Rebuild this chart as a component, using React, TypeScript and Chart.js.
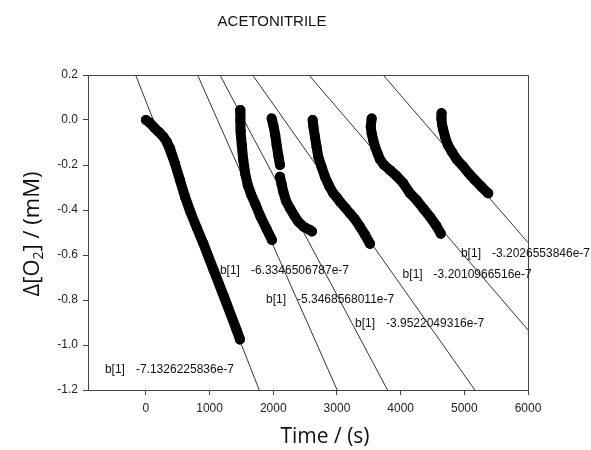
import React, { useEffect, useRef } from "react";
import { Chart, registerables } from "chart.js";

Chart.register(...registerables);

const TITLE = "ACETONITRILE";
const X_TITLE = "Time / (s)";
const X_TICKS = [0, 1000, 2000, 3000, 4000, 5000, 6000];
const Y_TICKS = [-1.2, -1.0, -0.8, -0.6, -0.4, -0.2, 0.0, 0.2];
const X_MIN = -910;
const X_MAX = 6000;
const Y_MIN = -1.2;
const Y_MAX = 0.2;

// measured runs: time (s), delta O2 (mM)
const RUN1_T = [0, 60, 141, 210, 272, 330, 377, 455, 534, 613, 700, 800, 900, 1063, 1225, 1424, 1476];
const RUN1_O2 = [0, -0.012, -0.037, -0.055, -0.074, -0.098, -0.126, -0.193, -0.267, -0.341, -0.41, -0.48, -0.548, -0.667, -0.785, -0.933, -0.975];

const RUN2_T = [1480, 1480, 1490, 1505, 1528, 1560, 1600, 1650, 1720, 1800, 1895, 1979];
const RUN2_O2 = [0.044, 0.0, -0.05, -0.111, -0.178, -0.24, -0.29, -0.33, -0.375, -0.43, -0.485, -0.533];

const RUN3A_T = [1974, 2000, 2030, 2052, 2080, 2105];
const RUN3A_O2 = [0.007, -0.022, -0.065, -0.111, -0.16, -0.2];
const RUN3B_T = [2105, 2130, 2157, 2200, 2262, 2330, 2392, 2480, 2576, 2607];
const RUN3B_O2 = [-0.252, -0.285, -0.319, -0.36, -0.393, -0.425, -0.452, -0.475, -0.489, -0.495];

const RUN4_T = [2618, 2630, 2654, 2680, 2706, 2760, 2811, 2880, 2942, 3000, 3047, 3130, 3204, 3280, 3361, 3440, 3518];
const RUN4_O2 = [0.0, -0.03, -0.074, -0.12, -0.163, -0.21, -0.252, -0.295, -0.326, -0.345, -0.363, -0.39, -0.415, -0.44, -0.474, -0.51, -0.55];

const RUN5_T = [3545, 3530, 3545, 3570, 3600, 3640, 3675, 3740, 3832, 3940, 4041, 4146, 4251, 4360, 4460, 4560, 4630];
const RUN5_O2 = [0.007, -0.03, -0.06, -0.09, -0.12, -0.15, -0.175, -0.2, -0.222, -0.25, -0.281, -0.326, -0.356, -0.395, -0.43, -0.47, -0.505];

const RUN6_T = [4644, 4640, 4650, 4670, 4696, 4740, 4801, 4880, 4984, 5070, 5167, 5270, 5376];
const RUN6_O2 = [0.03, 0.005, -0.02, -0.045, -0.074, -0.11, -0.14, -0.175, -0.207, -0.237, -0.267, -0.297, -0.326];

// regression lines: endpoints
const FIT_START_T = [-162, 811, 1162, 1675, 2559, 3725];
const FIT_START_O2 = [0.2, 0.2, 0.2, 0.2, 0.2, 0.2];
const FIT_END_T = [1779, 3003, 3794, 5165, 6000, 6000];
const FIT_END_O2 = [-1.2, -1.2, -1.2, -1.2, -0.933, -0.545];

const FIT_LABELS = [
  "-7.1326225836e-7",
  "-6.3346506787e-7",
  "-5.3468568011e-7",
  "-3.9522049316e-7",
  "-3.2010966516e-7",
  "-3.2026553846e-7",
];
const LABEL_T = [-644, 1162, 1885, 3283, 4031, 4947];
const LABEL_O2 = [-1.111, -0.67, -0.8, -0.907, -0.686, -0.596];

const RUNS: [number[], number[]][] = [
  [RUN1_T, RUN1_O2],
  [RUN2_T, RUN2_O2],
  [RUN3A_T, RUN3A_O2],
  [RUN3B_T, RUN3B_O2],
  [RUN4_T, RUN4_O2],
  [RUN5_T, RUN5_O2],
  [RUN6_T, RUN6_O2],
];

const SANS = '"Liberation Sans", Arial, sans-serif';
const TITLE_FONT = '"Open Sans", "Noto Sans", sans-serif';

const decorPlugin = {
  id: "decor",
  afterDraw(chart: any) {
    const ctx = chart.ctx as CanvasRenderingContext2D;
    const ca = chart.chartArea;
    const xs = chart.scales.x;
    const ys = chart.scales.y;
    ctx.save();
    // top and right frame
    ctx.strokeStyle = "#444";
    ctx.lineWidth = 1;
    ctx.beginPath();
    ctx.moveTo(ca.left, Math.round(ca.top) + 0.5);
    ctx.lineTo(ca.right + 0.5, Math.round(ca.top) + 0.5);
    ctx.lineTo(ca.right + 0.5, ca.bottom);
    ctx.stroke();

    // title
    ctx.fillStyle = "#111";
    ctx.font = `15px ${SANS}`;
    ctx.textAlign = "center";
    ctx.textBaseline = "middle";
    ctx.fillText(TITLE, 272, 22);

    // x title
    ctx.font = `21px ${TITLE_FONT}`;
    ctx.fillText(X_TITLE, 325, 437);

    // y title with subscript
    ctx.translate(31, 234);
    ctx.rotate(-Math.PI / 2);
    const big = `22px ${TITLE_FONT}`;
    const small = `14px ${TITLE_FONT}`;
    const p1 = "Δ[O";
    const p2 = "2";
    const p3 = "] / (mM)";
    ctx.font = big;
    const w1 = ctx.measureText(p1).width;
    const w3 = ctx.measureText(p3).width;
    ctx.font = small;
    const w2 = ctx.measureText(p2).width;
    const total = w1 + w2 + w3;
    let x0 = -total / 2;
    ctx.textAlign = "left";
    ctx.textBaseline = "alphabetic";
    ctx.font = big;
    ctx.fillText(p1, x0, 8);
    x0 += w1;
    ctx.font = small;
    ctx.fillText(p2, x0, 12);
    x0 += w2;
    ctx.font = big;
    ctx.fillText(p3, x0, 8);
    ctx.setTransform(1, 0, 0, 1, 0, 0);

    // fit labels
    ctx.font = `12px ${SANS}`;
    ctx.fillStyle = "#111";
    ctx.textAlign = "left";
    ctx.textBaseline = "middle";
    for (let i = 0; i < FIT_LABELS.length; i++) {
      const px = xs.getPixelForValue(LABEL_T[i]);
      const py = ys.getPixelForValue(LABEL_O2[i]);
      ctx.fillText("b[1]", px, py);
      ctx.fillText(FIT_LABELS[i], px + 31, py);
    }
    ctx.restore();
  },
};

export default function App() {
  const ref = useRef<HTMLCanvasElement | null>(null);
  useEffect(() => {
    if (!ref.current) return;
    const datasets: any[] = [];
    RUNS.forEach(([t, o]) => {
      datasets.push({
        type: "scatter",
        data: t.map((v, i) => ({ x: v, y: o[i] })),
        showLine: true,
        borderColor: "#000",
        backgroundColor: "#000",
        borderWidth: 10,
        borderCapStyle: "round",
        borderJoinStyle: "round",
        pointRadius: 5,
        pointBorderWidth: 0,
        pointBackgroundColor: "#000",
        order: 0,
      });
    });
    for (let i = 0; i < FIT_START_T.length; i++) {
      datasets.push({
        type: "scatter",
        data: [
          { x: FIT_START_T[i], y: FIT_START_O2[i] },
          { x: FIT_END_T[i], y: FIT_END_O2[i] },
        ],
        showLine: true,
        borderColor: "#333",
        borderWidth: 1,
        pointRadius: 0,
        order: 1,
      });
    }
    const chart = new Chart(ref.current, {
      type: "scatter",
      data: { datasets },
      options: {
        animation: false,
        responsive: false,
        events: [],
        layout: { padding: { left: 0, right: 63, top: 75, bottom: 0 } },
        plugins: { legend: { display: false }, tooltip: { enabled: false }, title: { display: false } },
        scales: {
          x: {
            type: "linear",
            min: X_MIN,
            max: X_MAX,
            afterBuildTicks: (s: any) => {
              s.ticks = X_TICKS.map((v) => ({ value: v }));
            },
            afterFit: (s: any) => {
              s.height = 60;
            },
            grid: { display: true, drawOnChartArea: false, drawTicks: true, tickLength: 5, color: "#444" },
            border: { display: true, color: "#444", width: 1 },
            ticks: {
              font: { family: SANS, size: 12 },
              color: "#222",
              padding: 6,
              maxRotation: 0,
              autoSkip: false,
              callback: (v: any) => String(v),
            },
          },
          y: {
            type: "linear",
            min: Y_MIN,
            max: Y_MAX,
            afterBuildTicks: (s: any) => {
              s.ticks = Y_TICKS.map((v) => ({ value: v }));
            },
            afterFit: (s: any) => {
              s.width = 88;
            },
            grid: { display: true, drawOnChartArea: false, drawTicks: true, tickLength: 5, color: "#444" },
            border: { display: true, color: "#444", width: 1 },
            ticks: {
              font: { family: SANS, size: 12 },
              color: "#222",
              padding: 5,
              autoSkip: false,
              callback: (v: any) => Number(v).toFixed(1),
            },
          },
        },
      },
      plugins: [decorPlugin],
    } as any);
    return () => chart.destroy();
  }, []);
  return (
    <div style={{ position: "fixed", left: 0, top: 0, width: 591, height: 450, background: "#fff" }}>
      <canvas ref={ref} width={591} height={450} />
    </div>
  );
}
